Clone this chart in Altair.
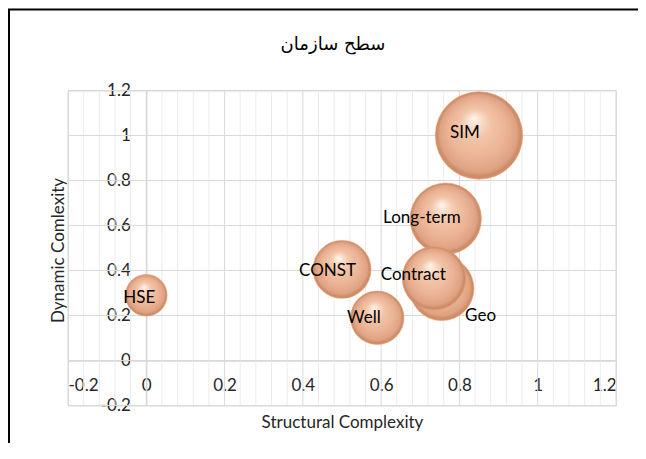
import altair as alt
import pandas as pd

# ---- data ----
names = ["SIM", "Long-term", "Geo", "Contract", "CONST", "Well", "HSE"]
structural = [0.85, 0.765, 0.755, 0.735, 0.50, 0.59, 0.0]
dynamic = [1.00, 0.63, 0.32, 0.365, 0.405, 0.19, 0.29]
bubble_size = [1.00, 0.667, 0.54, 0.526, 0.44, 0.373, 0.227]
label_x = [0.814, 0.704, 0.854, 0.682, 0.463, 0.556, -0.018]
label_y = [1.01, 0.635, 0.196, 0.38, 0.40, 0.19, 0.28]

x_major = [-0.2, 0.0, 0.2, 0.4, 0.6, 0.8, 1.0, 1.2]
y_major = [-0.2, 0.0, 0.2, 0.4, 0.6, 0.8, 1.0, 1.2]
x_minor = [round(-0.2 + 0.04 * i, 2) for i in range(36) if i % 5 != 0]

W, H = 548, 315
DOM = [-0.2, 1.2]
FONT = "Lato"

df = pd.DataFrame({
    "name": names, "x": structural, "y": dynamic, "size": bubble_size,
    "lx": label_x, "ly": label_y,
})

xs = alt.Scale(domain=DOM, nice=False, zero=False)
ys = alt.Scale(domain=DOM, nice=False, zero=False)

x_axis = alt.Axis(values=x_major, grid=False, ticks=False, tickSize=0,
                  offset=-H * 0.2 / 1.4, labelPadding=17,
                  labelExpr="'' + datum.value",
                  titleY=61.5, titleBaseline="middle")
y_axis = alt.Axis(values=y_major, grid=False, ticks=False, tickSize=0,
                  offset=-W * 0.2 / 1.4, labelPadding=16,
                  labelExpr="'' + datum.value",
                  titleX=-88, titleY=159.5, titleBaseline="middle")
XT = "Structural Complexity"
YT = "Dynamic Comlexity"

minor_v = alt.Chart(pd.DataFrame({"v": x_minor})).mark_rule(
    color="#ececec", strokeWidth=1
).encode(x=alt.X("v:Q", scale=xs, axis=x_axis, title=XT))

major_v = alt.Chart(pd.DataFrame({"v": x_major})).mark_rule(
    color="#d9d9d9", strokeWidth=1
).encode(x=alt.X("v:Q", scale=xs, axis=x_axis, title=XT))

major_h = alt.Chart(pd.DataFrame({"v": y_major})).mark_rule(
    color="#d9d9d9", strokeWidth=1
).encode(y=alt.Y("v:Q", scale=ys, axis=y_axis, title=YT))

sphere = {
    "gradient": "radial",
    "x1": 0.44, "y1": 0.3, "r1": 0,
    "x2": 0.5, "y2": 0.5, "r2": 0.5,
    "stops": [
        {"offset": 0.0, "color": "#fff8f0"},
        {"offset": 0.12, "color": "#fbe2d0"},
        {"offset": 0.35, "color": "#f2c4a8"},
        {"offset": 0.65, "color": "#ebb495"},
        {"offset": 0.88, "color": "#dfa283"},
        {"offset": 0.96, "color": "#c98a68"},
        {"offset": 1.0, "color": "#dc9466"},
    ],
}

bubbles = alt.Chart(df).mark_circle(
    fill=sphere, opacity=1, stroke="#e39a6a", strokeWidth=0.6
).encode(
    x=alt.X("x:Q", scale=xs, axis=x_axis, title=XT),
    y=alt.Y("y:Q", scale=ys, axis=y_axis, title=YT),
    size=alt.Size("size:Q", scale=alt.Scale(domain=[0, 1], range=[0, 7640]), legend=None),
    order=alt.Order("size:Q", sort="descending"),
)

labels = alt.Chart(df).mark_text(
    font=FONT, fontSize=17, color="#000000", align="center", baseline="middle"
).encode(
    x=alt.X("lx:Q", scale=xs, axis=x_axis, title=XT),
    y=alt.Y("ly:Q", scale=ys, axis=y_axis, title=YT),
    text="name:N",
)

border = alt.Chart(pd.DataFrame({"a": [0]})).mark_rect(
    fill="transparent", stroke="#000000", strokeWidth=2
).encode(
    x=alt.value(-59), x2=alt.value(W + 200),
    y=alt.value(-81), y2=alt.value(H + 200),
)

chart = alt.layer(minor_v, major_v, major_h, bubbles, labels, border).properties(
    width=W, height=H,
    padding={"left": 60, "top": 82.5, "right": 22, "bottom": 37.5},
    autosize=alt.AutoSizeParams(type="none"),
    title=alt.Title("سطح سازمان", font="DejaVu Sans", fontSize=18,
                    fontWeight="normal", color="#000000", anchor="middle",
                    offset=-45, dx=-9),
).configure_view(
    stroke="#d9d9d9", strokeWidth=1
).configure_axis(
    domainColor="#bfbfbf", domainWidth=1,
    labelFont=FONT, labelFontSize=17, labelColor="#262626",
    titleFont=FONT, titleFontSize=17, titleColor="#262626", titleFontWeight="normal",
)

chart.save("out.html", embed_options={"renderer": "svg", "actions": False})
